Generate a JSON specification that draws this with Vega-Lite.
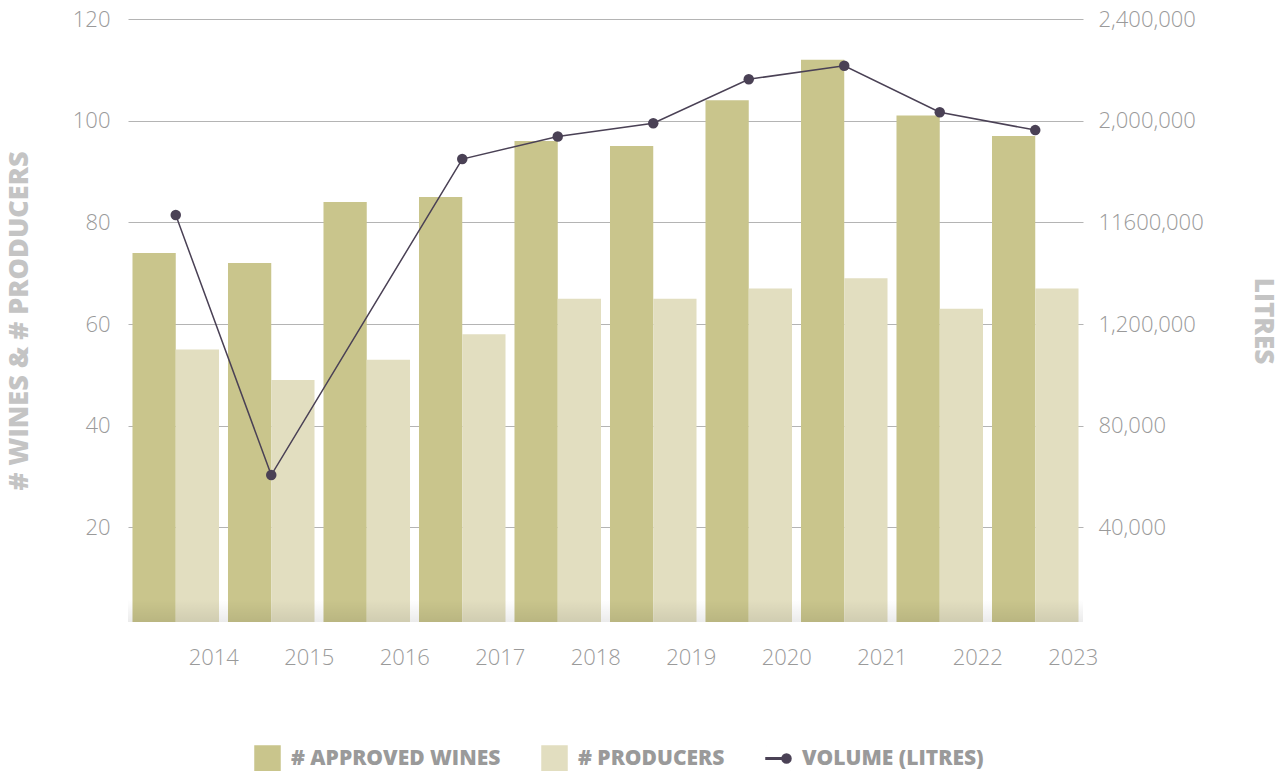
{
  "$schema": "https://vega.github.io/schema/vega-lite/v6.json",
  "width": 955,
  "height": 603,
  "autosize": {"type": "none"},
  "padding": {"left": 128, "top": 19, "right": 201, "bottom": 149},
  "background": "white",
  "config": {"view": {"stroke": null}, "font": "Open Sans"},
  "data": {
    "values": [
      {"year": "2014", "wines": 74, "producers": 55, "volume": 1629000},
      {"year": "2015", "wines": 72, "producers": 49, "volume": 606000},
      {"year": "2016", "wines": 84, "producers": 53, "volume": null},
      {"year": "2017", "wines": 85, "producers": 58, "volume": 1849000},
      {"year": "2018", "wines": 96, "producers": 65, "volume": 1938000},
      {"year": "2019", "wines": 95, "producers": 65, "volume": 1990000},
      {"year": "2020", "wines": 104, "producers": 67, "volume": 2163000},
      {"year": "2021", "wines": 112, "producers": 69, "volume": 2216000},
      {"year": "2022", "wines": 101, "producers": 63, "volume": 2033000},
      {"year": "2023", "wines": 97, "producers": 67, "volume": 1963000}
    ]
  },
  "layer": [
    {
      "layer": [
        {
          "transform": [{"fold": ["wines", "producers"], "as": ["series", "count"]}],
          "mark": {"type": "bar", "clip": true},
          "encoding": {
            "x": {
              "field": "year",
              "type": "nominal",
              "scale": {"paddingInner": 0.094, "paddingOuter": 0.047},
              "axis": {
                "title": null,
                "ticks": false,
                "domain": false,
                "labelAngle": 0,
                "labelOffset": 38,
                "labelPadding": 25,
                "labelFontSize": 22,
                "labelFontWeight": 300,
                "labelColor": "#9a9a9a"
              }
            },
            "xOffset": {
              "field": "series",
              "sort": ["wines", "producers"],
              "scale": {"paddingInner": 0, "paddingOuter": 0}
            },
            "y": {
              "field": "count",
              "type": "quantitative",
              "scale": {"domain": [1.4, 120], "nice": false, "zero": false},
              "axis": {
                "values": [20, 40, 60, 80, 100, 120],
                "title": "# WINES & # PRODUCERS",
                "titleFont": "Open Sans",
                "titleFontWeight": 800,
                "titleFontSize": 27,
                "titleColor": "#c4c4c4",
                "titlePadding": 39,
                "labelFontSize": 22,
                "labelFontWeight": 300,
                "labelColor": "#9a9a9a",
                "labelPadding": 18,
                "ticks": false,
                "domain": false,
                "grid": true,
                "gridColor": "#b4b4b4",
                "gridWidth": 1
              }
            },
            "color": {
              "field": "series",
              "type": "nominal",
              "scale": {"domain": ["wines", "producers", "volume"], "range": ["#C9C58C", "#E2DEC0", "#4A4155"]},
              "legend": {
                "orient": "none",
                "legendX": 126,
                "legendY": 726,
                "direction": "horizontal",
                "title": null,
                "labelExpr": "datum.value === 'wines' ? '# APPROVED WINES' : datum.value === 'producers' ? '# PRODUCERS' : 'VOLUME (LITRES)'",
                "labelFont": "Open Sans",
                "labelFontSize": 21,
                "labelFontWeight": 800,
                "labelColor": "#9a9a9a",
                "labelLimit": 400,
                "symbolSize": 625,
                "columnPadding": 38,
                "labelOffset": 10,
                "encode": {
                  "symbols": {
                    "update": {
                      "shape": {"signal": "datum.value === 'volume' ? 'M-1,-1L-0.999,-1M1,1L0.999,1M-1,-0.06L0.4,-0.06L0.4,0.06L-1,0.06Z M0.28,0A0.36,0.36 0 1 1 1,0A0.36,0.36 0 1 1 0.28,0Z' : 'square'"},
                      "fill": {"signal": "scale('color', datum.value)"},
                      "stroke": {"value": "transparent"},
                      "opacity": {"value": 1},
                      "size": {"value": 625}
                    }
                  }
                }
              }
            }
          }
        },
        {
          "data": {"values": [{"shade": "bottom"}]},
          "mark": {
            "type": "rect",
            "color": {
              "gradient": "linear",
              "x1": 0, "y1": 1, "x2": 0, "y2": 0,
              "stops": [
                {"offset": 0, "color": "rgba(0,0,0,0.08)"},
                {"offset": 1, "color": "rgba(0,0,0,0)"}
              ]
            }
          },
          "encoding": {
            "y": {"datum": 1.4, "type": "quantitative"},
            "y2": {"datum": 5.8}
          }
        }
      ]
    },
    {
      "transform": [{"filter": "datum.volume != null"}],
      "mark": {"type": "line", "strokeWidth": 1.5, "point": {"filled": true, "size": 110, "opacity": 1}},
      "encoding": {
        "x": {"field": "year", "type": "nominal"},
        "y": {
          "field": "volume",
          "type": "quantitative",
          "scale": {"domain": [28000, 2400000], "nice": false, "zero": false},
          "axis": {
            "orient": "right",
            "values": [400000, 800000, 1200000, 1600000, 2000000, 2400000],
            "labelExpr": "datum.value == 1600000 ? '11600,000' : datum.value == 800000 ? '80,000' : datum.value == 400000 ? '40,000' : format(datum.value, ',')",
            "title": "LITRES",
            "titleAngle": 90,
            "titleFont": "Open Sans",
            "titleFontWeight": 800,
            "titleFontSize": 26,
            "titleColor": "#c4c4c4",
            "titlePadding": 46,
            "labelFontSize": 22,
            "labelFontWeight": 300,
            "labelColor": "#9a9a9a",
            "labelPadding": 15,
            "ticks": false,
            "domain": false,
            "grid": false
          }
        },
        "color": {"datum": "volume"}
      }
    }
  ],
  "resolve": {"scale": {"y": "independent"}, "axis": {"y": "independent"}}
}
